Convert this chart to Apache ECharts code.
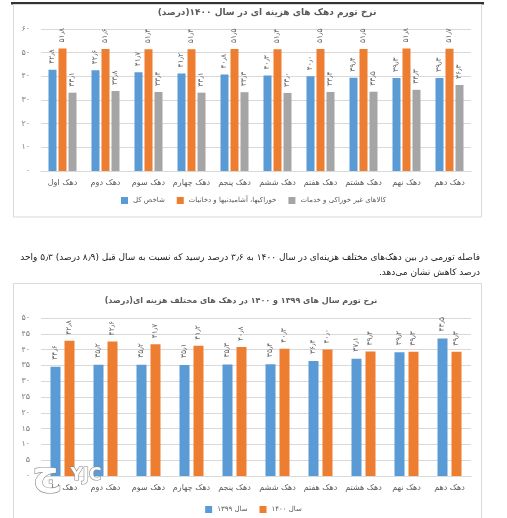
<!DOCTYPE html>
<html><head><meta charset="utf-8">
<script src="https://cdn.jsdelivr.net/npm/echarts@6/dist/echarts.min.js"></script>
<style>html,body{margin:0;padding:0;background:#fff}#c{width:507px;height:518px}</style>
</head><body><div id="c" dir="rtl"></div>
<script>
const categories = ['دهک اول','دهک دوم','دهک سوم','دهک چهارم','دهک پنجم','دهک ششم','دهک هفتم','دهک هشتم','دهک نهم','دهک دهم'];
const total1400 = [42.8,42.6,41.7,41.2,40.8,40.3,40.0,39.4,39.3,39.3];
const food1400 = [51.8,51.6,51.4,51.4,51.5,51.4,51.5,51.5,51.8,51.7];
const nonFood1400 = [33.1,33.8,33.4,33.1,33.3,33.0,33.4,33.5,34.3,36.3];
const total1399 = [34.6,35.2,35.2,35.1,35.3,35.4,36.4,37.1,39.2,43.5];
const names1 = ['شاخص کل','خوراکیها، آشامیدنیها و دخانیات','کالاهای غیر خوراکی و خدمات'];
const names2 = ['سال ۱۳۹۹','سال ۱۴۰۰'];
const title1 = 'نرخ تورم دهک های هزینه ای در سال ۱۴۰۰(درصد)';
const title2 = 'نرخ تورم سال های ۱۳۹۹ و ۱۴۰۰ در دهک های مختلف هزینه ای(درصد)';
const para1 = 'فاصله تورمی در بین دهک‌های مختلف هزینه‌ای در سال ۱۴۰۰ به ۳٫۶ درصد رسید که نسبت به سال قبل (۸٫۹ درصد) ۵٫۳ واحد';
const para2 = 'درصد کاهش نشان می‌دهد.';

const FONT = 'DejaVu Sans';
const fa = s => String(s).replace(/\d/g, d => '۰۱۲۳۴۵۶۷۸۹'[d]).replace('.', '٫');
const C = {blue:'#5B9BD5', orange:'#ED7D31', gray:'#A5A5A5'};

function barSeries(name, data, color, idx, width, gap, dist) {
  return {
    name, type:'bar', data, xAxisIndex: idx, yAxisIndex: idx,
    barWidth: width, barGap: gap,
    itemStyle:{color},
    label:{show:true, position:'top', rotate:90, align:'left', verticalAlign:'middle', distance:dist,
      fontSize:7.5, color:'#666', fontFamily:FONT, formatter:p => fa(p.value.toFixed(1))}
  };
}
const xAxisBase = idx => ({
  type:'category', data:categories, gridIndex:idx,
  axisLine:{lineStyle:{color:'#D9D9D9'}}, axisTick:{show:false},
  axisLabel:{fontSize:8, color:'#595959', fontFamily:FONT, margin:8, interval:0}
});
const yAxisBase = (idx, max, interval) => ({
  type:'value', gridIndex:idx, min:0, max, interval,
  axisLine:{show:false}, axisTick:{show:false},
  splitLine:{lineStyle:{color:'#D9D9D9'}},
  axisLabel:{fontSize:8, color:'#7F7F7F', fontFamily:FONT, margin:11, formatter:v => fa(v)}
});

const chart = echarts.init(document.getElementById('c'), null, {renderer:'canvas'});
chart.setOption({
  animation:false,
  backgroundColor:'#fff',
  title:[
    {text:title1, left:262, top:3, textAlign:'center', textStyle:{fontSize:9, fontWeight:'bold', color:'#595959', fontFamily:FONT}},
    {text:title2, left:236, top:292, textAlign:'center', textStyle:{fontSize:8, fontWeight:'bold', color:'#595959', fontFamily:FONT}}
  ],
  legend:[
    {data:names1, left:'center', top:192, itemWidth:7, itemHeight:7, itemGap:12, icon:'rect',
     textStyle:{fontSize:7, color:'#595959', fontFamily:FONT}},
    {data:names2, left:'center', top:501, itemWidth:7, itemHeight:7, itemGap:12, icon:'rect',
     textStyle:{fontSize:7, color:'#595959', fontFamily:FONT}}
  ],
  grid:[
    {left:41, right:36, top:29, height:142},
    {left:41, right:36, top:318, height:158}
  ],
  xAxis:[xAxisBase(0), xAxisBase(1)],
  yAxis:[yAxisBase(0, 60, 10), yAxisBase(1, 50, 5)],
  series:[
    barSeries(names1[0], total1400, C.blue, 0, 8, '25%', 6),
    barSeries(names1[1], food1400, C.orange, 0, 8, '25%', 6),
    barSeries(names1[2], nonFood1400, C.gray, 0, 8, '25%', 6),
    barSeries(names2[0], total1399, C.blue, 1, 10, '40%', 7),
    barSeries(names2[1], total1400, C.orange, 1, 10, '40%', 6)
  ],
  graphic:[
    {type:'rect', z:-1, shape:{x:11, y:2, width:473, height:2.5}, style:{fill:'#333'}},
    {type:'rect', z:-1, shape:{x:13.5, y:4.5, width:468, height:212.5}, style:{fill:'none', stroke:'#D9D9D9', lineWidth:1}},
    {type:'rect', z:-1, shape:{x:13.5, y:283.5, width:468, height:240}, style:{fill:'none', stroke:'#D9D9D9', lineWidth:1}},
    {type:'text', x:480, y:258, style:{text:para1, fontSize:9, fontFamily:FONT, fill:'#1a1a1a', align:'right', verticalAlign:'middle'}},
    {type:'text', x:480, y:273, style:{text:para2, fontSize:9, fontFamily:FONT, fill:'#1a1a1a', align:'right', verticalAlign:'middle'}},
    {type:'text', z:50, x:46, y:474, style:{text:'ج', fontSize:38, fontWeight:'bold', fontFamily:FONT, fill:'#fff', stroke:'#8a8a8a', lineWidth:1.2, align:'center', verticalAlign:'middle'}},
    {type:'text', z:50, x:86, y:476, style:{text:'YJC', fontSize:17, fontWeight:'bold', fontFamily:FONT, fill:'#fff', stroke:'#8a8a8a', lineWidth:1.2, align:'center', verticalAlign:'middle'}}
  ]
});
</script></body></html>
